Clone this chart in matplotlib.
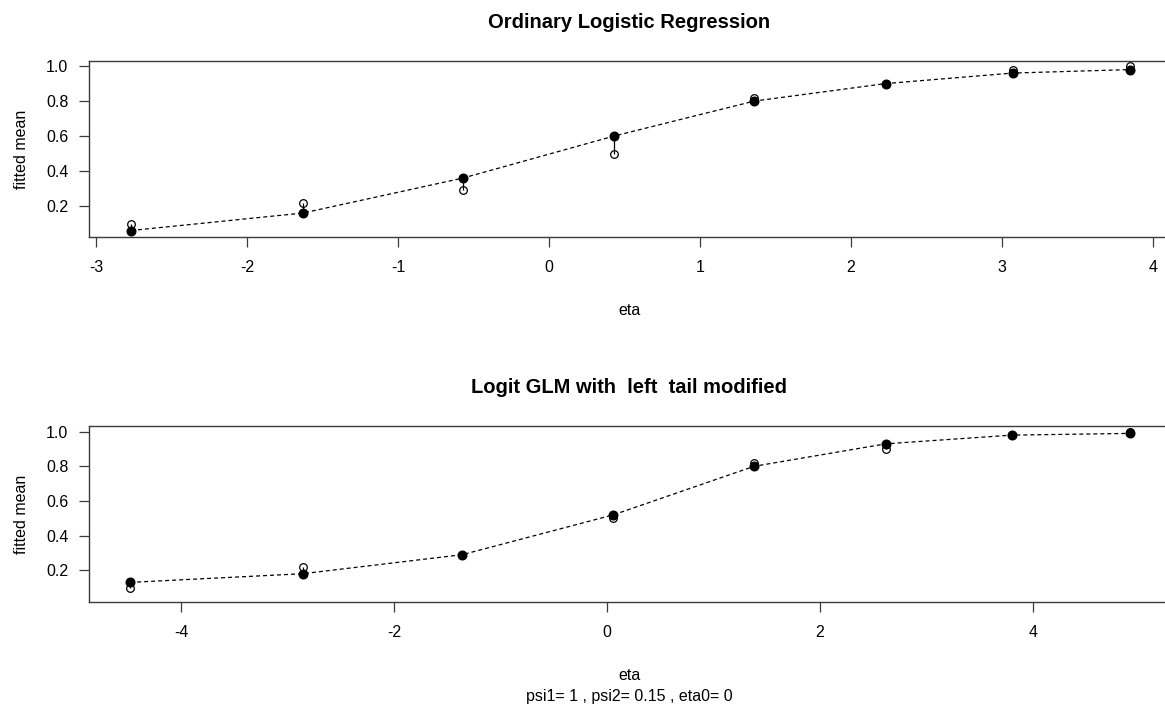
import matplotlib
matplotlib.use("Agg")
import matplotlib.pyplot as plt

# values
eta_ord = [-2.77, -1.63, -0.57, 0.43, 1.36, 2.23, 3.07, 3.85]
eta_mod = [-4.48, -2.86, -1.36, 0.06, 1.38, 2.62, 3.80, 4.91]
observed = [0.10, 0.22, 0.29, 0.50, 0.82, 0.90, 0.98, 1.00]
fit_ord = [0.06, 0.16, 0.36, 0.60, 0.80, 0.90, 0.96, 0.98]
fit_mod = [0.13, 0.18, 0.29, 0.52, 0.80, 0.93, 0.98, 0.99]

titles = ["Ordinary Logistic Regression", "Logit GLM with  left  tail modified"]
xticks_ord = [-3, -2, -1, 0, 1, 2, 3, 4]
xticks_mod = [-4, -2, 0, 2, 4]
yticks = [0.2, 0.4, 0.6, 0.8, 1.0]
subtitle = "psi1= 1 , psi2= 0.15 , eta0= 0"

plt.rcParams["font.family"] = ["Liberation Sans", "DejaVu Sans"]

W, H = 1165, 706
SPINE = "#3a3a3a"


def px_axes(fig, left, top, right, bottom):
    return fig.add_axes([left / W, 1 - bottom / H, (right - left) / W, (bottom - top) / H])


def panel(ax, eta, fit, title, xticks, xlim, ylim):
    ax.plot(eta, observed, "o", mfc="white", mec="black", mew=0.9, ms=5.5, zorder=2)
    ax.plot(eta, fit, color="black", lw=0.9, dashes=(3.2, 2.4), zorder=3)
    ax.vlines(eta, observed, fit, color="black", lw=0.9, zorder=3)
    ax.plot(eta, fit, "o", color="black", ms=6.2, zorder=4)
    ax.set_xlim(*xlim)
    ax.set_ylim(*ylim)
    ax.set_xticks(xticks)
    ax.set_xticklabels([str(t) for t in xticks])
    ax.set_yticks(yticks)
    ax.set_yticklabels([f"{t:.1f}" for t in yticks])
    ax.tick_params(axis="both", direction="out", length=7.5, width=0.9,
                   color=SPINE, labelsize=11.5, labelcolor="black")
    ax.tick_params(axis="x", pad=9)
    ax.tick_params(axis="y", pad=7.5)
    for s in ax.spines.values():
        s.set_color(SPINE)
        s.set_linewidth(1.0)
    ax.set_title(title, fontsize=14.5, fontweight="bold", pad=24)
    ax.set_xlabel("eta", fontsize=11.5, labelpad=20)
    ax.set_ylabel("fitted mean", fontsize=11.5, labelpad=12)


fig = plt.figure(figsize=(W / 100, H / 100), dpi=100)
ax1 = px_axes(fig, 89.3, 61, 1169.5, 237)
ax2 = px_axes(fig, 89.3, 426.3, 1169.5, 602.3)

panel(ax1, eta_ord, fit_ord, titles[0], xticks_ord, (-3.046, 4.11), (0.023, 1.029))
panel(ax2, eta_mod, fit_mod, titles[1], xticks_mod, (-4.864, 5.283), (0.015, 1.031))

ax2.annotate(subtitle, xy=(0.5, 0), xycoords="axes fraction", xytext=(0, -68),
             textcoords="offset points", ha="center", va="center", fontsize=11.5)

fig.savefig("out.png", dpi=100, facecolor="white")
